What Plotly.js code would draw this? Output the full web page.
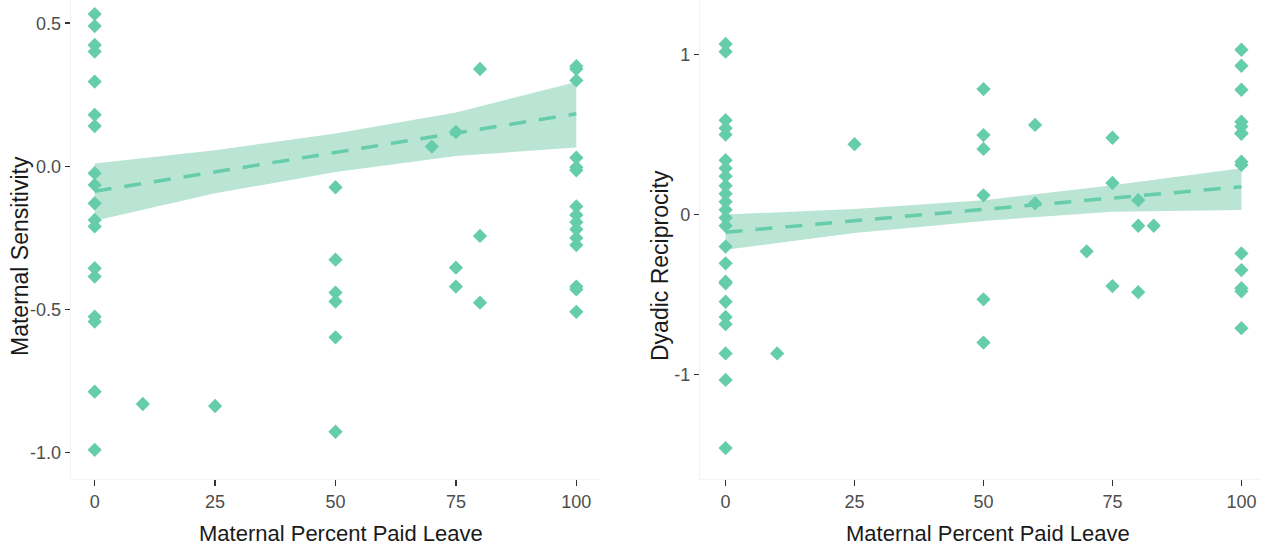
<!DOCTYPE html>
<html>
<head>
<meta charset="utf-8">
<script src="https://cdn.plot.ly/plotly-3.0.1.min.js"></script>
<style>html,body{margin:0;padding:0;background:#fff;}#chart{width:1261px;height:545px;}</style>
</head>
<body>
<div id="chart"></div>
<script>
// ---- Left panel: Maternal Sensitivity ----
const sensX = [0,0,0,0,0,0,0,0,0,0,0,0,0,0,0,0,0,0,
               10,25,
               50,50,50,50,50,50,
               70,75,75,75,80,80,80,
               100,100,100,100,100,100,100,100,100,100,100,100,100,100,100];
const sensY = [0.532,0.490,0.424,0.401,0.296,0.180,0.141,-0.024,-0.065,-0.129,-0.187,-0.210,-0.356,-0.385,-0.525,-0.542,-0.787,-0.990,
               -0.830,-0.837,
               -0.073,-0.326,-0.441,-0.472,-0.597,-0.927,
               0.069,0.120,-0.354,-0.420,0.340,-0.243,-0.476,
               0.350,0.340,0.300,0.030,-0.003,-0.014,-0.140,-0.170,-0.195,-0.220,-0.250,-0.275,-0.420,-0.430,-0.508];
const sensFitX = [0,25,50,75,100];
const sensFit = [-0.087,-0.019,0.048,0.116,0.184];
const sensUpper = [0.010,0.056,0.115,0.188,0.295];
const sensLower = [-0.190,-0.094,-0.020,0.036,0.066];

// ---- Right panel: Dyadic Reciprocity ----
const recX = [0,0,0,0,0,0,0,0,0,0,0,0,0,0,0,0,0,0,0,0,0,0,0,0,
              10,25,
              50,50,50,50,50,50,
              60,60,70,75,75,75,80,80,80,83,
              100,100,100,100,100,100,100,100,100,100,100,100,100,100];
const recY = [1.066,1.018,0.590,0.540,0.500,0.340,0.290,0.240,0.180,0.130,0.080,0.030,-0.020,-0.070,-0.200,-0.305,-0.420,-0.545,-0.640,-0.685,-0.868,-1.034,-1.460,-0.430,
              -0.868,0.440,
              0.784,0.497,0.410,0.120,-0.530,-0.800,
              0.560,0.070,-0.230,0.480,0.197,-0.447,0.090,-0.070,-0.485,-0.070,
              1.030,0.930,0.780,0.580,0.550,0.510,0.330,0.310,-0.243,-0.347,-0.460,-0.480,-0.710,0.505];
const recFitX = [0,25,50,75,100];
const recFit = [-0.110,-0.040,0.030,0.100,0.174];
const recUpper = [0.000,0.035,0.090,0.183,0.290];
const recLower = [-0.220,-0.115,-0.040,0.018,0.028];

// tick labels
const xTicks = [0,25,50,75,100];
const xTickText = ['0','25','50','75','100'];
const sensTicks = [-1,-0.5,0,0.5];
const sensTickText = ['-1.0','-0.5','0.0','0.5'];
const recTicks = [-1,0,1];
const recTickText = ['-1','0','1'];

const green = '#66cdaa';
const bandFill = 'rgba(102,195,160,0.45)';
const FONT = 'Liberation Sans, Arial, Helvetica, sans-serif';

function panel(xs, ys, fx, fit, up, lo, xa, ya) {
  return [
    {x: fx, y: lo, xaxis: xa, yaxis: ya, type: 'scatter', mode: 'lines', line: {width: 0, color: bandFill}, hoverinfo: 'skip'},
    {x: fx, y: up, xaxis: xa, yaxis: ya, type: 'scatter', mode: 'lines', line: {width: 0, color: bandFill}, fill: 'tonexty', fillcolor: bandFill, hoverinfo: 'skip'},
    {x: fx, y: fit, xaxis: xa, yaxis: ya, type: 'scatter', mode: 'lines', line: {width: 3.5, color: green, dash: '17px,13px'}},
    {x: xs, y: ys, xaxis: xa, yaxis: ya, type: 'scatter', mode: 'markers', marker: {symbol: 'diamond', size: 11, color: green}, cliponaxis: false}
  ];
}

const data = [].concat(
  panel(sensX, sensY, sensFitX, sensFit, sensUpper, sensLower, 'x', 'y'),
  panel(recX, recY, recFitX, recFit, recUpper, recLower, 'x2', 'y2')
);

const W = 1261, H = 545, B = 66, PH = H - B;
const common = {
  showgrid: false, zeroline: false, showline: true, linecolor: '#f4f4f4', linewidth: 1,
  ticks: 'outside', tickcolor: '#333', tickwidth: 1.5,
  tickfont: {family: FONT, size: 18, color: '#4d4d4d'}
};
const layout = {
  width: W, height: H,
  margin: {l: 0, r: 0, t: 0, b: B},
  paper_bgcolor: '#fff', plot_bgcolor: '#fff',
  showlegend: false,
  font: {family: FONT},
  xaxis: Object.assign({}, common, {domain: [70.6 / W, 600.4 / W], range: [-5, 105], anchor: 'y', tickmode: 'array', tickvals: xTicks, ticktext: xTickText, ticklen: 6}),
  yaxis: Object.assign({}, common, {domain: [0, 1], range: [-1.092, 0.581], anchor: 'x', tickmode: 'array', tickvals: sensTicks, ticktext: sensTickText, ticklen: 5}),
  xaxis2: Object.assign({}, common, {domain: [699.8 / W, 1], range: [-5, 103.8], anchor: 'y2', tickmode: 'array', tickvals: xTicks, ticktext: xTickText, ticklen: 6}),
  yaxis2: Object.assign({}, common, {domain: [0, 1], range: [-1.653, 1.341], anchor: 'x2', tickmode: 'array', tickvals: recTicks, ticktext: recTickText, ticklen: 5}),
  annotations: [
    {text: 'Maternal Sensitivity', xref: 'paper', yref: 'paper', x: 20 / W, y: (PH - 256) / PH, textangle: -90, showarrow: false, xanchor: 'center', yanchor: 'middle', font: {family: FONT, size: 23, color: '#1a1a1a'}},
    {text: 'Dyadic Reciprocity', xref: 'paper', yref: 'paper', x: 660 / W, y: (PH - 266) / PH, textangle: -90, showarrow: false, xanchor: 'center', yanchor: 'middle', font: {family: FONT, size: 23, color: '#1a1a1a'}},
    {text: 'Maternal Percent Paid Leave', xref: 'paper', yref: 'paper', x: 341 / W, y: (PH - 533) / PH, showarrow: false, xanchor: 'center', yanchor: 'middle', font: {family: FONT, size: 22, color: '#1a1a1a'}},
    {text: 'Maternal Percent Paid Leave', xref: 'paper', yref: 'paper', x: 988 / W, y: (PH - 533) / PH, showarrow: false, xanchor: 'center', yanchor: 'middle', font: {family: FONT, size: 22, color: '#1a1a1a'}}
  ]
};

Plotly.newPlot('chart', data, layout, {staticPlot: true, displayModeBar: false});
</script>
</body>
</html>
